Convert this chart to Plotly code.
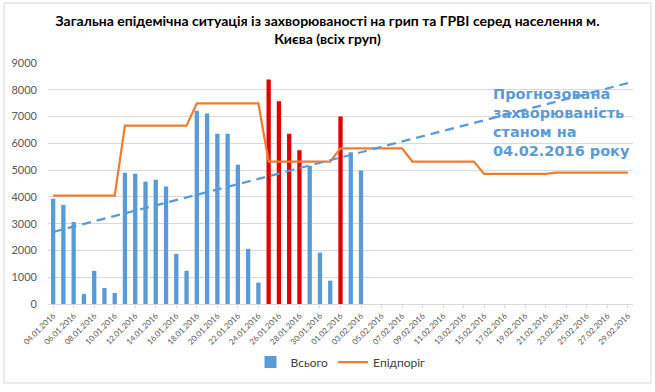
import plotly.graph_objects as go
import datetime as dt

# ---- data ----
start = dt.date(2016, 1, 4)
dates = [(start + dt.timedelta(days=i)).strftime("%d.%m.%Y") for i in range(57)]  # 04.01 .. 29.02

total_cases = [3930, 3700, 3060, 370, 1240, 600, 410,
               4900, 4860, 4570, 4640, 4390, 1870, 1240,
               7220, 7110, 6360, 6360, 5200, 2060, 800,
               8380, 7570, 6360, 5740, 5160, 1920, 870,
               7000, 5670, 4990]

epid_threshold = [4050] * 7 + [6660] * 7 + [7490] * 7 + [5320] * 7 + [5810] * 7 + [5320] * 7 + [4860] * 7 + [4910] * 8

highlight_dates = ["25.01.2016", "26.01.2016", "27.01.2016", "28.01.2016", "01.02.2016"]

trend_dates = [dates[0], dates[-1]]
trend_values = [2690, 8250]

title_text = "Загальна епідемічна ситуація із захворюваності на грип та ГРВІ серед населення м.<br>Києва (всіх груп)"
note_text = "Прогнозована<br>захворюваність<br>станом на<br>04.02.2016 року"
note_date = "16.02.2016"

# ---- styles ----
BLUE = "#5B9BD5"
RED = "#E00000"
ORANGE = "#ED7D31"

bar_dates = dates[:len(total_cases)]
bar_colors = [RED if d in highlight_dates else BLUE for d in bar_dates]

fig = go.Figure()
fig.add_trace(go.Bar(x=bar_dates, y=total_cases, name="Всього",
                     marker=dict(color=bar_colors, line=dict(width=0)), width=0.42))
fig.add_trace(go.Scatter(x=dates, y=epid_threshold, name="Епідпоріг", mode="lines",
                         line=dict(color=ORANGE, width=2.25)))
fig.add_trace(go.Scatter(x=trend_dates, y=trend_values, mode="lines", showlegend=False,
                         line=dict(color=BLUE, width=2.25, dash="9px,6px")))

fig.add_annotation(x=note_date, y=8200, xref="x", yref="y", text=note_text, showarrow=False,
                   xanchor="left", yanchor="top", align="left", xshift=-3,
                   font=dict(family="DejaVu Sans", size=14.5, color="#5B9BD5", weight="bold"))

fig.add_shape(type="rect", xref="paper", yref="paper", x0=-0.0752, x1=1.0308, y0=-0.328, y1=1.249,
              line=dict(color="#D9D9D9", width=1), layer="below")

fig.update_layout(
    width=655, height=392,
    margin=dict(l=48, r=22, t=63, b=88, autoexpand=False),
    paper_bgcolor="white", plot_bgcolor="white",
    title=dict(text=title_text, x=0.5, xanchor="center", y=0.933, yanchor="top",
               font=dict(family="Lato", size=14, color="#000000", weight="bold")),
    bargap=0.5,
    legend=dict(orientation="h", x=0.5, xanchor="center", y=-0.241, yanchor="middle",
                font=dict(family="Lato", size=12, color="#404040")),
    showlegend=True,
)
fig.update_xaxes(type="category", categoryorder="array", categoryarray=dates, automargin=False,
                 range=[-0.5, 56.5], tickmode="array", tickvals=dates[::2], ticktext=dates[::2],
                 tickangle=-45, tickfont=dict(family="Lato", size=8, color="#595959"),
                 showline=True, linecolor="#D9D9D9", ticks="outside", tickcolor="#D9D9D9", ticklen=3,
                 showgrid=False)
fig.update_yaxes(range=[0, 9000], dtick=1000, showgrid=True, gridcolor="#D9D9D9", automargin=False,
                 tickfont=dict(family="Lato", size=11, color="#595959"), zeroline=False,
                 ticks="", ticklabelstandoff=10)

fig.write_html("out.html", config={"displayModeBar": False},
               post_script="document.body.style.margin='0';")
